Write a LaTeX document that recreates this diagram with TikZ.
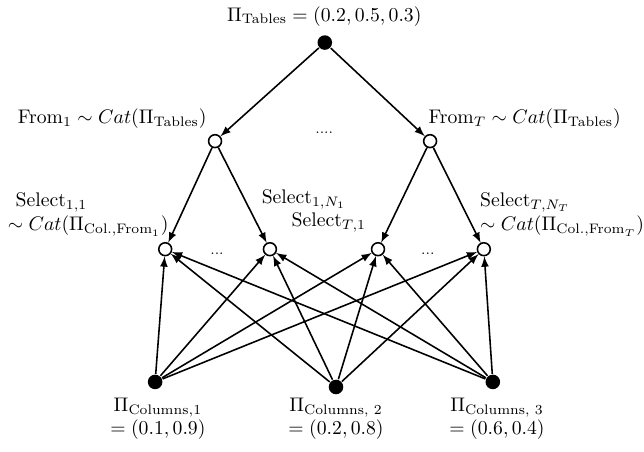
\documentclass[tikz,border=0pt]{standalone}
\usepackage{amsmath}
\usetikzlibrary{arrows}

\begin{document}
\begin{tikzpicture}[>=latex, thick,
    obs/.style={circle, fill, inner sep=0pt, minimum size=0.26cm},
    lat/.style={circle, draw, fill=white, inner sep=0pt, minimum size=0.23cm},
    txt/.style={inner sep=0pt}]
    \useasboundingbox (0, 0) rectangle (11.5, -8.07);

    \node at (5.80, -0.76) [obs] (tables) {};
    \node at (5.79, -0.375) [txt, anchor=base] (tableslbl) {$\Pi_{\textrm{Tables}} = (0.2, 0.5, 0.3)$};

    \node at (3.84, -2.52) [lat] (from1) {};
    \node at (7.68, -2.52) [lat] (fromT) {};
    \node at (3.70, -2.20) [txt, anchor=base east] (from1lbl) {From$_1 \sim Cat(\Pi_{\textrm{Tables}})$};
    \node at (7.64, -2.21) [txt, anchor=base west] (fromTlbl) {From$_T \sim Cat(\Pi_{\textrm{Tables}})$};
    \node at (5.79, -2.39) [txt, anchor=base] (fromdots) {\scriptsize ....};

    \node at (2.95, -4.45) [lat] (s11) {};
    \node at (4.82, -4.45) [lat] (s1n) {};
    \node at (6.75, -4.45) [lat] (sT1) {};
    \node at (8.64, -4.45) [lat] (sTn) {};
    \node at (0.125, -3.43) [txt, anchor=north west, align=left] (s11lbl) {\hspace{4pt}Select$_{1,1}$\\$\sim Cat(\Pi_{\textrm{Col.,From}_1})$};
    \node at (4.66, -3.64) [txt, anchor=base west] (s1nlbl) {Select$_{1,N_1}$};
    \node at (6.55, -4.05) [txt, anchor=base east] (sT1lbl) {Select$_{T,1}$};
    \node at (8.56, -3.43) [txt, anchor=north west, align=left] (sTnlbl) {Select$_{T,N_T}$\\$\sim Cat(\Pi_{\textrm{Col.,From}_T})$};
    \node at (3.875, -4.54) [txt, anchor=base] (s1dots) {\scriptsize ...};
    \node at (7.64, -4.54) [txt, anchor=base] (sTdots) {\scriptsize ...};

    \node at (2.77, -6.82) [obs] (col1) {};
    \node at (6.00, -6.91) [obs] (col2) {};
    \node at (8.80, -6.82) [obs] (col3) {};
    \node at (2.82, -7.09) [txt, anchor=north, align=center] (col1lbl) {$\Pi_{\textrm{Columns},1}$\\$= (0.1, 0.9)$};
    \node at (6.00, -7.09) [txt, anchor=north, align=center] (col2lbl) {$\Pi_{\textrm{Columns, 2}}$\\$= (0.2, 0.8)$};
    \node at (8.875, -7.09) [txt, anchor=north, align=center] (col3lbl) {$\Pi_{\textrm{Columns, 3}}$\\$= (0.6, 0.4)$};

    \draw[->] (tables) -- (from1);
    \draw[->] (tables) -- (fromT);
    \draw[->] (from1) -- (s11);
    \draw[->] (from1) -- (s1n);
    \draw[->] (fromT) -- (sT1);
    \draw[->] (fromT) -- (sTn);

    \draw[->] (col1) -- (s11);
    \draw[->] (col1) -- (s1n);
    \draw[->] (col1) -- (sT1);
    \draw[->] (col1) -- (sTn);
    \draw[->] (col2) -- (s11);
    \draw[->] (col2) -- (s1n);
    \draw[->] (col2) -- (sT1);
    \draw[->] (col2) -- (sTn);
    \draw[->] (col3) -- (s11);
    \draw[->] (col3) -- (s1n);
    \draw[->] (col3) -- (sT1);
    \draw[->] (col3) -- (sTn);
\end{tikzpicture}
\end{document}
